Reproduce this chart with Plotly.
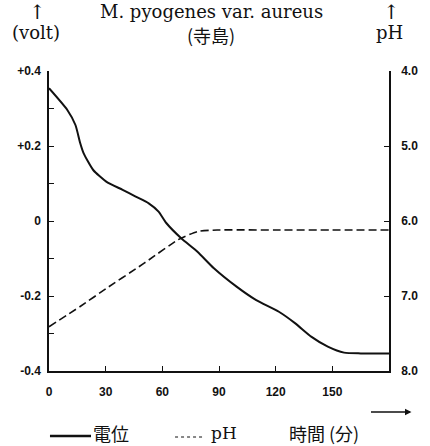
import plotly.graph_objects as go

# Time course (minutes)
time_potential = [0, 9.7, 14, 16.5, 18.3, 23.4, 30.3, 39, 45.9, 52.8, 58, 62.2, 70,
                  78.6, 87.3, 99.3, 109.7, 121.7, 130.4, 139, 147.6, 156.2, 165, 180]
# Oxidation-reduction potential (volt)
potential = [0.354, 0.296, 0.256, 0.208, 0.181, 0.136, 0.105, 0.083, 0.065, 0.047, 0.025,
             -0.006, -0.046, -0.082, -0.126, -0.175, -0.211, -0.242, -0.273, -0.309,
             -0.335, -0.351, -0.353, -0.353]

time_ph = [0, 16.5, 30.3, 47.6, 52.8, 68.3, 78.6, 89, 120, 150, 180]
ph = [7.41, 7.14, 6.90, 6.61, 6.52, 6.25, 6.14, 6.12, 6.12, 6.12, 6.12]

x_tick_vals = [0, 30, 60, 90, 120, 150]
volt_tick_vals = [0.4, 0.3, 0.2, 0.1, 0.0, -0.1, -0.2, -0.3, -0.4]
volt_tick_text = ["+0.4", "", "+0.2", "", "0", "", "-0.2", "", "-0.4"]
ph_tick_vals = [4.0, 5.0, 6.0, 7.0, 8.0]
ph_tick_text = ["4.0", "5.0", "6.0", "7.0", "8.0"]

W, H = 430, 446
L, R, T, B = 49, 33, 71, 75
PW, PH = W - L - R, H - T - B


def px(x):
    return (x - L) / PW


def py(y):
    return (H - B - y) / PH


INK = "#111111"
SERIF = "DejaVu Serif"
CJK = "Noto Sans CJK JP"
TICKFONT = dict(family="Liberation Sans", size=12, color=INK, weight="bold")

fig = go.Figure()
fig.add_trace(go.Scatter(
    x=time_potential, y=potential, mode="lines", name="電位",
    line=dict(color=INK, width=2, shape="spline", smoothing=0.6),
    yaxis="y", showlegend=False))
fig.add_trace(go.Scatter(
    x=time_ph, y=ph, mode="lines", name="pH",
    line=dict(color=INK, width=1.6, dash="8px,4px", shape="spline", smoothing=0.5),
    yaxis="y2", showlegend=False))

fig.update_layout(
    width=W, height=H,
    margin=dict(l=L, r=R, t=T, b=B),
    paper_bgcolor="white", plot_bgcolor="white",
    xaxis=dict(range=[0, 180], tickvals=x_tick_vals, ticks="inside", ticklen=5,
               tickcolor=INK, showline=True, linecolor=INK, linewidth=1.5,
               showgrid=False, zeroline=False, tickfont=TICKFONT,
               ticklabelstandoff=9),
    yaxis=dict(range=[-0.4, 0.4], tickvals=volt_tick_vals, ticktext=volt_tick_text,
               ticks="inside", ticklen=5, tickcolor=INK, showline=True, linecolor=INK,
               linewidth=1.5, showgrid=False, zeroline=False, tickfont=TICKFONT,
               ticklabelstandoff=4),
    yaxis2=dict(range=[8.0, 4.0], tickvals=ph_tick_vals, ticktext=ph_tick_text,
                overlaying="y", side="right", anchor="x",
                ticks="inside", ticklen=5, tickcolor=INK, showline=True, linecolor=INK,
                linewidth=1.5, showgrid=False, zeroline=False, tickfont=TICKFONT,
                ticklabelstandoff=8),
)

annotations = [
    dict(x=px(215), y=py(12), text="M. pyogenes var. aureus",
         font=dict(family=SERIF, size=18, color=INK)),
    dict(x=px(215), y=py(35), text="(寺島)", font=dict(family=CJK, size=18, color=INK)),
    dict(x=px(37), y=py(12), text="↑", font=dict(family=SERIF, size=20, color=INK)),
    dict(x=px(36), y=py(33), text="(volt)", font=dict(family=SERIF, size=18, color=INK)),
    dict(x=px(400), y=py(12), text="↑", font=dict(family=SERIF, size=20, color=INK)),
    dict(x=px(397), y=py(33), text="pH", font=dict(family=SERIF, size=18, color=INK)),
    dict(x=px(112), y=py(433), text="電位", font=dict(family=CJK, size=18, color=INK)),
    dict(x=px(228), y=py(433), text="pH", font=dict(family=SERIF, size=17, color=INK)),
    dict(x=px(330), y=py(433), text="時間 (分)", font=dict(family=CJK, size=18, color=INK)),
]
for a in annotations:
    a.update(xref="paper", yref="paper", xanchor="center", yanchor="middle",
             showarrow=False)
    fig.add_annotation(**a)

# Time direction arrow
fig.add_annotation(x=px(420), y=py(412), ax=-42, ay=0, text="", showarrow=True,
                   xref="paper", yref="paper", arrowhead=2, arrowsize=1,
                   arrowwidth=1.3, arrowcolor=INK, standoff=0)

# Legend keys drawn beneath the time axis
fig.add_shape(type="line", xref="paper", yref="paper",
              x0=px(50), x1=px(92), y0=py(436), y1=py(436),
              line=dict(color=INK, width=2.5))
fig.add_shape(type="line", xref="paper", yref="paper",
              x0=px(178), x1=px(208), y0=py(437), y1=py(437),
              line=dict(color=INK, width=1, dash="dot"))

fig.write_html("out.html")
